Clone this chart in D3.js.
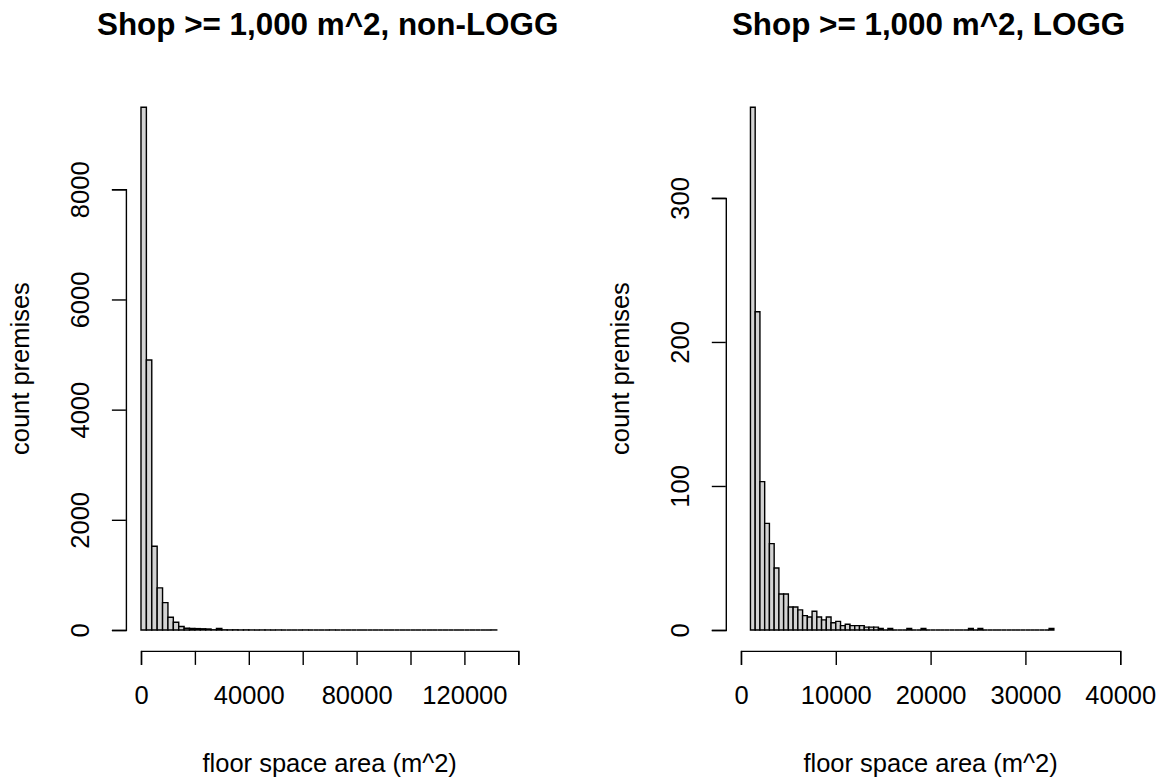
<!DOCTYPE html>
<html>
<head>
<meta charset="utf-8">
<script src="https://cdn.jsdelivr.net/npm/d3@7"></script>
<style>
  html, body { margin: 0; padding: 0; background: #ffffff; }
  svg { display: block; }
  text { font-family: "Liberation Sans", Arial, sans-serif; fill: #000; }
</style>
</head>
<body>
<svg id="chart" width="1158" height="781"></svg>
<script>
// ---- data -------------------------------------------------------------
// Shops >= 1,000 m^2, non-LOGG: histogram with 2,000 m^2 bins starting at 0
const nonLoggBinStart = 0;
const nonLoggBinWidth = 2000;
const nonLoggCounts = [
  9490, 4900, 1520, 765, 497, 232, 140, 63, 32, 28,
  25, 22, 18, 4, 26, 3, 2, 3, 1, 2,
  1, 0, 1, 1, 0, 1, 0, 0, 0, 0,
  1, 0, 0, 0, 0, 1, 0, 0, 0, 0,
  0, 0, 0, 0, 0, 0, 0, 0, 0, 0,
  0, 0, 0, 0, 0, 0, 0, 0, 0, 0,
  0, 0, 0, 0, 0, 1
];

// Shops >= 1,000 m^2, LOGG: histogram with 500 m^2 bins starting at 1,000
const loggBinStart = 1000;
const loggBinWidth = 500;
const loggCounts = [
  363, 221, 103, 74, 60, 43, 25, 25, 16, 16,
  14, 10, 9, 13, 9, 7, 9, 5, 6, 3,
  4, 3, 3, 3, 2, 2, 2, 1, 0, 1,
  0, 0, 0, 1, 0, 0, 1, 0, 0, 0,
  0, 0, 0, 0, 0, 0, 1, 0, 1, 0,
  0, 0, 0, 0, 0, 0, 0, 0, 0, 0,
  0, 0, 0, 1
];

// axis ranges and ticks
const nonLoggXLim = [0, 140000];
const nonLoggXTicks = [0, 20000, 40000, 60000, 80000, 100000, 120000, 140000];
const nonLoggXLabelled = [0, 40000, 80000, 120000];
const nonLoggYTicks = [0, 2000, 4000, 6000, 8000];

const loggXLim = [0, 40000];
const loggXTicks = [0, 10000, 20000, 30000, 40000];
const loggXLabelled = [0, 10000, 20000, 30000, 40000];
const loggYTicks = [0, 100, 200, 300];

const titles = ["Shop >= 1,000 m^2, non-LOGG", "Shop >= 1,000 m^2, LOGG"];
const xTitle = "floor space area (m^2)";
const yTitle = "count premises";

// ---- layout -----------------------------------------------------------
const svg = d3.select("#chart");
const AXIS_FONT = 25.5;
const TITLE_FONT = 31.4;
const TICK = 14;
const LINE_W = 1.4;

const panels = [
  {
    counts: nonLoggCounts, start: nonLoggBinStart, width: nonLoggBinWidth,
    xlim: nonLoggXLim, xTicks: nonLoggXTicks, xLabelled: nonLoggXLabelled,
    yTicks: nonLoggYTicks, title: titles[0],
    box: { left: 125.9, right: 533.4, top: 86.3, bottom: 650.9 }
  },
  {
    counts: loggCounts, start: loggBinStart, width: loggBinWidth,
    xlim: loggXLim, xTicks: loggXTicks, xLabelled: loggXLabelled,
    yTicks: loggYTicks, title: titles[1],
    box: { left: 725.8, right: 1135.4, top: 86.3, bottom: 650.9 }
  }
];

// extend a range by 4% on each side, like R's default axis style
function padded(lo, hi) {
  const d = (hi - lo) * 0.04;
  return [lo - d, hi + d];
}

panels.forEach(p => {
  const bins = p.counts.map((c, i) => ({
    x0: p.start + i * p.width,
    x1: p.start + (i + 1) * p.width,
    count: c
  }));
  const ymax = d3.max(p.counts);

  const x = d3.scaleLinear()
    .domain(padded(p.xlim[0], p.xlim[1]))
    .range([p.box.left, p.box.right]);
  const y = d3.scaleLinear()
    .domain(padded(0, ymax))
    .range([p.box.bottom, p.box.top]);

  const g = svg.append("g");

  // bars as closed paths so that empty bins still show their outline on the baseline
  g.append("g").selectAll("path")
    .data(bins)
    .join("path")
    .attr("d", d => {
      const p0 = d3.path();
      p0.moveTo(x(d.x0), y(0));
      p0.lineTo(x(d.x0), y(d.count));
      p0.lineTo(x(d.x1), y(d.count));
      p0.lineTo(x(d.x1), y(0));
      p0.closePath();
      return p0.toString();
    })
    .attr("fill", "#d3d3d3")
    .attr("stroke", "#000")
    .attr("stroke-width", LINE_W)
    .attr("stroke-linejoin", "miter");

  // x axis: spans first to last tick
  const xa = x.copy()
    .domain([p.xTicks[0], p.xTicks[p.xTicks.length - 1]])
    .range([x(p.xTicks[0]), x(p.xTicks[p.xTicks.length - 1])]);
  const xAxis = g.append("g")
    .attr("transform", `translate(0,${p.box.bottom})`)
    .call(d3.axisBottom(xa)
      .tickValues(p.xTicks)
      .tickSize(TICK)
      .tickSizeOuter(TICK)
      .tickPadding(21)
      .tickFormat(v => p.xLabelled.includes(v) ? String(v) : ""));
  xAxis.selectAll("path, line").attr("stroke", "#000").attr("stroke-width", LINE_W);
  xAxis.selectAll("text")
    .attr("font-size", AXIS_FONT)
    .attr("font-family", "Liberation Sans, Arial, sans-serif")
    .attr("fill", "#000");

  // y axis: spans first to last tick, labels parallel to the axis
  const yt0 = p.yTicks[0], yt1 = p.yTicks[p.yTicks.length - 1];
  const ya = y.copy().domain([yt0, yt1]).range([y(yt0), y(yt1)]);
  const yAxis = g.append("g")
    .attr("transform", `translate(${p.box.left},0)`)
    .call(d3.axisLeft(ya)
      .tickValues(p.yTicks)
      .tickSize(TICK)
      .tickSizeOuter(TICK)
      .tickFormat(d3.format("d")));
  yAxis.selectAll("path, line").attr("stroke", "#000").attr("stroke-width", LINE_W);
  yAxis.selectAll("text")
    .attr("x", null)
    .attr("dy", null)
    .attr("text-anchor", "middle")
    .attr("transform", "translate(-37,0) rotate(-90)")
    .attr("font-size", AXIS_FONT)
    .attr("font-family", "Liberation Sans, Arial, sans-serif")
    .attr("fill", "#000");

  // drop d3's default font settings on the axis groups
  xAxis.attr("font-size", null).attr("font-family", null);
  yAxis.attr("font-size", null).attr("font-family", null);

  const cx = (p.box.left + p.box.right) / 2;
  const cy = (p.box.top + p.box.bottom) / 2;

  // title
  g.append("text")
    .attr("x", cx - 2)
    .attr("y", 35)
    .attr("text-anchor", "middle")
    .attr("font-weight", "bold")
    .attr("font-size", TITLE_FONT)
    .text(p.title);

  // x axis title
  g.append("text")
    .attr("x", cx)
    .attr("y", 772)
    .attr("text-anchor", "middle")
    .attr("font-size", AXIS_FONT)
    .text(xTitle);

  // y axis title
  g.append("text")
    .attr("transform", `translate(${p.box.left - 97},${cy}) rotate(-90)`)
    .attr("text-anchor", "middle")
    .attr("font-size", AXIS_FONT)
    .text(yTitle);
});
</script>
</body>
</html>
